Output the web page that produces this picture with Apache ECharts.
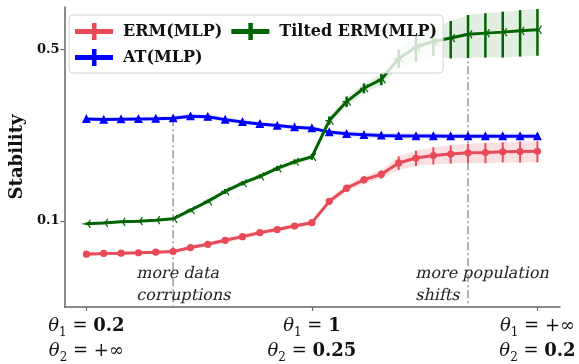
<!DOCTYPE html>
<html>
<head>
<meta charset="utf-8">
<script src="https://cdn.jsdelivr.net/npm/echarts@6/dist/echarts.min.js"></script>
<style>
  html, body { margin: 0; padding: 0; background: #fff; }
  #chart { width: 579px; height: 364px; }
</style>
</head>
<body>
<div id="chart"></div>
<script>
// 27 settings along the x axis, from (θ1=0.2, θ2=+∞) to (θ1=+∞, θ2=0.2)
const ermMean = [0.0731, 0.0736, 0.0738, 0.0741, 0.0745, 0.0749, 0.0778, 0.0802, 0.0833, 0.0862,
  0.0895, 0.0922, 0.0952, 0.0983, 0.1201, 0.1359, 0.1471, 0.1548, 0.1723, 0.1805,
  0.1848, 0.1873, 0.1895, 0.1900, 0.1912, 0.1918, 0.1923];
const ermErr = [0.001, 0.001, 0.001, 0.001, 0.001, 0.001, 0.0015, 0.0015, 0.002, 0.002,
  0.002, 0.002, 0.002, 0.002, 0.003, 0.004, 0.005, 0.006, 0.011, 0.013,
  0.015, 0.016, 0.017, 0.018, 0.018, 0.019, 0.019];

const atMean = [0.2606, 0.2589, 0.2599, 0.2606, 0.2613, 0.2623, 0.2672, 0.2662, 0.2589, 0.2534,
  0.2487, 0.2448, 0.2412, 0.2389, 0.2302, 0.2266, 0.2245, 0.2231, 0.2220, 0.2218,
  0.2217, 0.2216, 0.2215, 0.2215, 0.2215, 0.2215, 0.2215];
const atErr = [0.005, 0.005, 0.005, 0.005, 0.005, 0.005, 0.007, 0.007, 0.006, 0.006,
  0.005, 0.005, 0.005, 0.005, 0.005, 0.006, 0.006, 0.006, 0.006, 0.006,
  0.006, 0.006, 0.006, 0.006, 0.006, 0.006, 0.006];

const tiltedMean = [0.0972, 0.0981, 0.0991, 0.0997, 0.1006, 0.1019, 0.1105, 0.1201, 0.1318, 0.1424,
  0.1519, 0.1637, 0.1742, 0.1825, 0.2565, 0.3067, 0.3477, 0.3780, 0.4596, 0.5115,
  0.5399, 0.5571, 0.5771, 0.5836, 0.5891, 0.5962, 0.6018];
const tiltedErr = [0.001, 0.001, 0.001, 0.001, 0.001, 0.001, 0.002, 0.002, 0.003, 0.003,
  0.003, 0.004, 0.004, 0.005, 0.010, 0.015, 0.016, 0.020, 0.040, 0.065,
  0.070, 0.097, 0.115, 0.120, 0.125, 0.128, 0.130];

const tickSteps = [0, 13, 26];
const theta1Labels = ['0.2', '1', '+∞'];
const theta2Labels = ['+∞', '0.25', '0.2'];
const yTicks = [0.1, 0.5];
const guideSteps = [5, 22];

const RED = '#e84a57';
const BLUE = '#0000ff';
const GREEN = '#006400';
const SERIF = '"DejaVu Serif", serif';
const Y_MIN = 0.0445;

const chart = echarts.init(document.getElementById('chart'));

function bandSeries(name, mean, err, fill) {
  return {
    type: 'custom',
    name: name,
    z: 1,
    silent: true,
    data: [[0, mean[0]]],
    renderItem: (params, api) => {
      const upper = mean.map((m, i) => api.coord([i, m + err[i]]));
      const lower = mean.map((m, i) => api.coord([i, m - err[i]])).reverse();
      return {
        type: 'polygon',
        shape: { points: upper.concat(lower) },
        style: { fill: fill }
      };
    }
  };
}

function errorBarSeries(name, mean, err, color, width) {
  return {
    type: 'custom',
    name: name,
    z: 2,
    silent: true,
    data: mean.map((m, i) => [i, m - err[i], m + err[i]]),
    encode: { x: 0, y: [1, 2] },
    renderItem: (params, api) => {
      const lo = api.coord([api.value(0), api.value(1)]);
      const hi = api.coord([api.value(0), api.value(2)]);
      return {
        type: 'line',
        shape: { x1: lo[0], y1: lo[1], x2: hi[0], y2: hi[1] },
        style: { stroke: color, lineWidth: width }
      };
    }
  };
}

function lineSeries(name, mean, color, symbol, size) {
  return {
    type: 'line',
    name: name,
    z: 3,
    data: mean.map((m, i) => [i, m]),
    symbol: symbol,
    symbolSize: size,
    showAllSymbol: true,
    lineStyle: { width: 3, color: color },
    itemStyle: { color: color, borderColor: color, borderWidth: 1.2 }
  };
}

// slanted note text (no italic face available, so shear it)
function note(text, x, y) {
  return {
    type: 'text', x: x, y: y, z: 5, skewX: -0.22,
    style: { text: text, fontFamily: SERIF, fontSize: 16, fill: '#222' }
  };
}

const triLeft = 'path://M10,10 L0,10 M10,10 L15,1.34 M10,10 L15,18.66';
const legendIcon = 'path://M0,6 h36 v3 h-36 z M17,0 h2.5 v15 h-2.5 z';

const option = {
  animation: false,
  grid: { left: 61, right: 19, top: 7, bottom: 54 },
  legend: {
    z: 10,
    left: 69,
    top: 15,
    width: 372,
    orient: 'horizontal',
    padding: [8, 6, 7, 6],
    itemGap: 9,
    itemWidth: 36,
    itemHeight: 15,
    backgroundColor: 'rgba(255,255,255,0.8)',
    borderColor: '#d6d6d6',
    borderWidth: 1,
    borderRadius: 4,
    textStyle: { fontFamily: SERIF, fontWeight: 'bold', fontSize: 16, color: '#111', padding: [0, 0, 0, 6] },
    data: [
      { name: 'ERM(MLP)', icon: legendIcon },
      { name: 'Tilted ERM(MLP)', icon: legendIcon },
      { name: 'AT(MLP)', icon: legendIcon }
    ]
  },
  graphic: [
    note('more data', 139, 266),
    note('corruptions', 139, 288),
    note('more population', 418, 266),
    note('shifts', 418, 288)
  ],
  xAxis: {
    type: 'value',
    min: -1.26,
    max: 27.3,
    splitLine: { show: false },
    axisLine: { onZero: false, lineStyle: { color: '#666', width: 1.5 } },
    axisTick: { customValues: tickSteps, length: 4, lineStyle: { color: '#666', width: 1.2 } },
    axisLabel: {
      customValues: tickSteps,
      margin: 7,
      color: '#111',
      formatter: (v) => {
        const k = tickSteps.indexOf(Math.round(v));
        const fmt = (s) => (s.indexOf('∞') >= 0 ? '{r|' + s + '}' : '{b|' + s + '}');
        return '{t|θ}{s|1}{r| = }' + fmt(theta1Labels[k]) + '\n{t|θ}{s|2}{r| = }' + fmt(theta2Labels[k]);
      },
      rich: {
        t: { fontFamily: SERIF, fontStyle: 'italic', fontSize: 18, lineHeight: 25, color: '#111' },
        s: { fontFamily: SERIF, fontSize: 12, lineHeight: 16, verticalAlign: 'bottom', color: '#111' },
        r: { fontFamily: SERIF, fontSize: 18, lineHeight: 25, color: '#111' },
        b: { fontFamily: SERIF, fontWeight: 'bold', fontSize: 18, lineHeight: 25, color: '#111' }
      }
    }
  },
  yAxis: {
    type: 'log',
    logBase: 10,
    min: Y_MIN,
    max: 0.746,
    name: 'Stability',
    nameLocation: 'middle',
    nameGap: 35,
    nameTextStyle: { fontFamily: SERIF, fontWeight: 'bold', fontSize: 18, color: '#111' },
    splitLine: { show: false },
    axisLine: { show: true, onZero: false, lineStyle: { color: '#666', width: 1.5 } },
    axisTick: { show: true, customValues: yTicks, length: 4, lineStyle: { color: '#666', width: 1.2 } },
    minorTick: { show: false },
    axisLabel: {
      customValues: yTicks,
      margin: 5,
      fontFamily: SERIF,
      fontWeight: 'bold',
      fontSize: 13,
      color: '#111',
      formatter: (v) => String(v)
    }
  },
  series: [
    {
      type: 'custom',
      name: 'guides',
      z: 1,
      silent: true,
      data: [[guideSteps[0], atMean[guideSteps[0]]], [guideSteps[1], tiltedMean[guideSteps[1]]]],
      renderItem: (params, api) => {
        const top = api.coord([api.value(0), api.value(1)]);
        const bottom = api.coord([api.value(0), Y_MIN]);
        return {
          type: 'line',
          shape: { x1: top[0], y1: top[1], x2: bottom[0], y2: bottom[1] },
          style: { stroke: '#a0a0a0', lineWidth: 1.6, lineDash: [8, 3, 2, 3] }
        };
      }
    },
    bandSeries('ermBand', ermMean, ermErr, 'rgba(232,74,87,0.17)'),
    bandSeries('atBand', atMean, atErr, 'rgba(0,0,255,0.09)'),
    bandSeries('tiltedBand', tiltedMean, tiltedErr, 'rgba(0,100,0,0.11)'),
    errorBarSeries('ermBars', ermMean, ermErr, RED, 2),
    errorBarSeries('atBars', atMean, atErr, BLUE, 2),
    errorBarSeries('tiltedBars', tiltedMean, tiltedErr, GREEN, 2.5),
    lineSeries('ERM(MLP)', ermMean, RED, 'circle', 6),
    lineSeries('AT(MLP)', atMean, BLUE, 'triangle', 7),
    lineSeries('Tilted ERM(MLP)', tiltedMean, GREEN, triLeft, 8)
  ]
};

chart.setOption(option);
</script>
</body>
</html>
